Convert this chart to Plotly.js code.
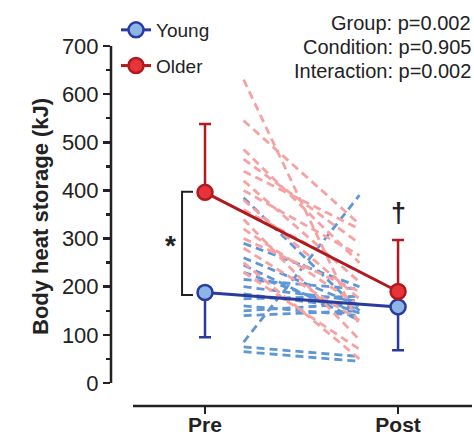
<!DOCTYPE html>
<html><head><meta charset="utf-8">
<script src="https://cdn.plot.ly/plotly-3.0.1.min.js"></script>
<style>html,body{margin:0;padding:0;background:#fff}#chart{width:474px;height:438px}</style>
</head><body><div id="chart"></div>
<script>
// Data
const conditions = ["Pre", "Post"];
const youngMean = [188, 158];
const youngSD = [93, 90];          // drawn downward
const olderMean = [396, 190];
const olderSD = [142, 107];        // drawn upward
const youngPre  = [385, 290, 260, 245, 230, 215, 200, 185, 175, 160, 150, 140, 85, 75, 65];
const youngPost = [150, 200, 160, 130, 145, 195, 170, 155, 180, 140, 165, 150, 390, 55, 45];
const olderPre  = [630, 545, 485, 465, 440, 420, 400, 380, 360, 340, 320, 300, 280, 250, 230];
const olderPost = [120, 330, 250, 290, 320, 210, 265, 175, 230, 90, 160, 190, 130, 50, 70];
const yTicks = [0, 100, 200, 300, 400, 500, 600, 700];
const stats = ["Group: p=0.002", "Condition: p=0.905", "Interaction: p=0.002"];

const FONT = "Liberation Sans, Arial, sans-serif";
const indivX = [0.2, 0.8];
const traces = [];
for (let i = 0; i < youngPre.length; i++) {
  traces.push({x: indivX, y: [youngPre[i], youngPost[i]], mode: 'lines', showlegend: false, hoverinfo: 'skip',
    line: {color: '#5f97d6', width: 2.8, dash: '8px,5px'}});
}
for (let i = 0; i < olderPre.length; i++) {
  traces.push({x: indivX, y: [olderPre[i], olderPost[i]], mode: 'lines', showlegend: false, hoverinfo: 'skip',
    line: {color: '#f6a2a2', width: 2.8, dash: '8px,5px'}});
}
traces.push({x: [0, 1], y: youngMean, name: 'Young', mode: 'lines+markers', legendgroup: 'a',
  line: {color: '#2a3a9e', width: 3},
  marker: {size: 15, color: '#8db6e6', line: {color: '#2a3a9e', width: 2.5}},
  error_y: {type: 'data', symmetric: false, array: [0, 0], arrayminus: youngSD, color: '#2a3a9e', thickness: 2.5, width: 6}});
traces.push({x: [0, 1], y: olderMean, name: 'Older', mode: 'lines+markers', legendgroup: 'b',
  line: {color: '#b0191e', width: 3},
  marker: {size: 15, color: '#e5343a', line: {color: '#b0191e', width: 2.5}},
  error_y: {type: 'data', symmetric: false, array: olderSD, arrayminus: [0, 0], color: '#b0191e', thickness: 2.5, width: 6}});

const px = p => (p - 111) / 361;
const py = p => (406 - p) / 360;
const annotations = stats.map((s, i) => ({
  xref: 'paper', yref: 'paper', x: px(473), y: py(23 + 24 * i), xanchor: 'right', yanchor: 'middle',
  text: s, showarrow: false, font: {family: FONT, size: 20, color: '#222'}
}));
annotations.push({xref: 'paper', yref: 'paper', x: px(40), y: py(217), xanchor: 'center', yanchor: 'middle',
  textangle: -90, showarrow: false,
  text: '<b>Body heat storage (kJ)</b>', font: {family: FONT, size: 22, color: '#222'}});
annotations.push({xref: 'x', yref: 'y', x: -0.18, y: 285, xanchor: 'center', yanchor: 'middle', showarrow: false, text: '<b>*</b>',
  font: {family: FONT, size: 28, color: '#222'}});
annotations.push({xref: 'x', yref: 'y', x: 1, y: 353, xanchor: 'center', yanchor: 'middle', showarrow: false, text: '<b>†</b>',
  font: {family: FONT, size: 27, color: '#222'}});

const shapes = [
  {type: 'line', xref: 'paper', yref: 'y', x0: 0, x1: 0, y0: 0, y1: 700, line: {color: '#222', width: 2.5}},
  {type: 'line', xref: 'paper', yref: 'paper', x0: px(133), x1: 1, y0: 0, y1: 0, line: {color: '#222', width: 2.5}},
  {type: 'path', xref: 'x', yref: 'y', path: 'M -0.062 397 L -0.119 397 L -0.119 183 L -0.062 183',
    line: {color: '#222', width: 2}}
];

const layout = {
  width: 474, height: 438,
  margin: {l: 111, r: 2, t: 46, b: 32, pad: 0},
  paper_bgcolor: '#fff', plot_bgcolor: '#fff',
  font: {family: FONT, color: '#222'},
  xaxis: {range: [-0.487, 1.383], tickvals: [0, 1], ticktext: conditions.map(c => '<b>' + c + '</b>'),
    ticks: 'outside', ticklen: 7, tickwidth: 2.5, tickcolor: '#222', showgrid: false, zeroline: false,
    showline: false, ticklabelstandoff: -7, tickfont: {family: FONT, size: 21, color: '#222'}},
  yaxis: {range: [-47.8, 700], tickvals: yTicks, ticks: 'outside', ticklen: 7, tickwidth: 2.5, tickcolor: '#222',
    showgrid: false, zeroline: false, showline: false, tickfont: {family: FONT, size: 22, color: '#222'},
    minor: {tickvals: [50, 150, 250, 350, 450, 550, 650], ticks: 'outside', ticklen: 4, tickwidth: 2.5, tickcolor: '#222', showgrid: false}},
  legend: {x: px(116), y: py(11), xanchor: 'left', yanchor: 'top', bgcolor: 'rgba(0,0,0,0)',
    font: {family: FONT, size: 19, color: '#222'}, tracegroupgap: 8, traceorder: 'grouped'},
  showlegend: true,
  annotations: annotations,
  shapes: shapes
};
Plotly.newPlot('chart', traces, layout, {displayModeBar: false, staticPlot: true});
</script></body></html>
